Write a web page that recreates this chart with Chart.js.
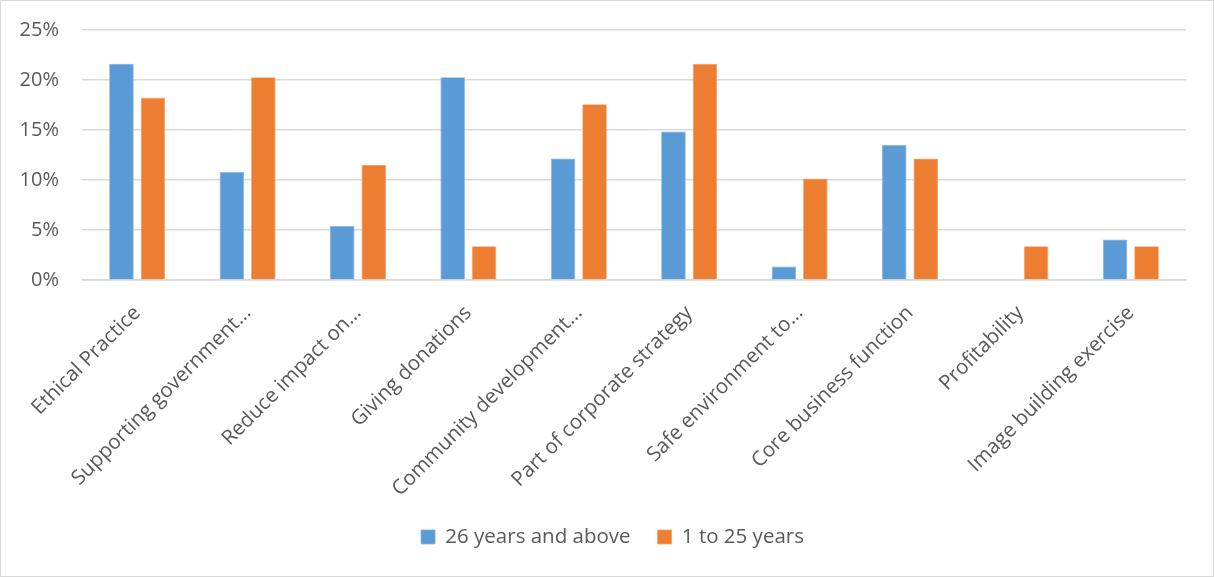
<!DOCTYPE html>
<html>
<head>
<meta charset="utf-8">
<script src="https://cdn.jsdelivr.net/npm/chart.js@4.4.1/dist/chart.umd.min.js"></script>
<style>
  html, body { margin: 0; padding: 0; background: #fff; }
  #wrap { position: relative; width: 1214px; height: 577px; }
  #wrap canvas { position: absolute; left: 0; top: 0; }
  #frame { position: absolute; left: 0; top: 0; width: 1214px; height: 577px;
           box-sizing: border-box; border: 1.5px solid #d9d9d9; pointer-events: none; }
</style>
</head>
<body>
<div id="wrap">
  <canvas id="chart" width="1214" height="577"></canvas>
  <div id="frame"></div>
</div>
<script>
// Reasons for CSR engagement, share of respondents by firm age
const categories = [
  "Ethical Practice",
  "Supporting government\u2026",
  "Reduce impact on\u2026",
  "Giving donations",
  "Community development\u2026",
  "Part of corporate strategy",
  "Safe environment to\u2026",
  "Core business function",
  "Profitability",
  "Image building exercise"
];
const olderFirms = [21.62, 10.81, 5.41, 20.27, 12.16, 14.86, 1.35, 13.51, 0, 4.05];
const youngerFirms = [18.24, 20.27, 11.49, 3.38, 17.57, 21.62, 10.14, 12.16, 3.38, 3.38];
const seriesNames = ["26 years and above", "1 to 25 years"];
const yTicks = [0, 5, 10, 15, 20, 25];

const FONT = "'Open Sans', sans-serif";
const TEXT = "#595959";
const GRID = "#d9d9d9";

// Nudges the legend row sideways so it sits centred under the whole chart
const legendOffset = {
  id: "legendOffset",
  afterLayout(chart, args, opts) {
    const lg = chart.legend;
    if (lg) { lg.left += opts.dx; lg.right += opts.dx; }
  }
};

new Chart(document.getElementById("chart"), {
  type: "bar",
  plugins: [legendOffset],
  data: {
    labels: categories,
    datasets: [
      { label: seriesNames[0], data: olderFirms, backgroundColor: "#5b9bd5",
        borderColor: "#7fb2e0", borderWidth: 0.8 },
      { label: seriesNames[1], data: youngerFirms, backgroundColor: "#ed7d31",
        borderColor: "#f3a06a", borderWidth: 0.8 }
    ]
  },
  options: {
    responsive: false,
    animation: false,
    categoryPercentage: 0.57,
    barPercentage: 0.78,
    layout: { padding: { top: 30, right: 28, bottom: 19.75, left: 0 } },
    plugins: {
      tooltip: { enabled: false },
      legendOffset: { dx: 19.5 },
      legend: {
        position: "bottom",
        labels: {
          boxWidth: 14, boxHeight: 14, padding: 27,
          color: TEXT, font: { family: FONT, size: 20.5, lineHeight: 1 }
        }
      }
    },
    scales: {
      x: {
        grid: { display: false },
        border: { display: true, color: GRID, width: 1.5 },
        ticks: {
          color: TEXT, font: { family: FONT, size: 20.5 },
          minRotation: 45, maxRotation: 45, autoSkip: false, padding: 13
        },
        afterFit: (scale) => { scale.height = 219.75; }
      },
      y: {
        min: 0, max: 25,
        afterBuildTicks: (scale) => { scale.ticks = yTicks.map(v => ({ value: v })); },
        grid: { color: GRID, lineWidth: 1.5, drawTicks: true, tickLength: 5, tickColor: "rgba(0,0,0,0)" },
        border: { display: false },
        ticks: {
          color: TEXT, font: { family: FONT, size: 20 }, padding: 18,
          callback: (v) => v + "%"
        },
        afterFit: (scale) => { scale.width = 82; }
      }
    }
  }
});
</script>
</body>
</html>
